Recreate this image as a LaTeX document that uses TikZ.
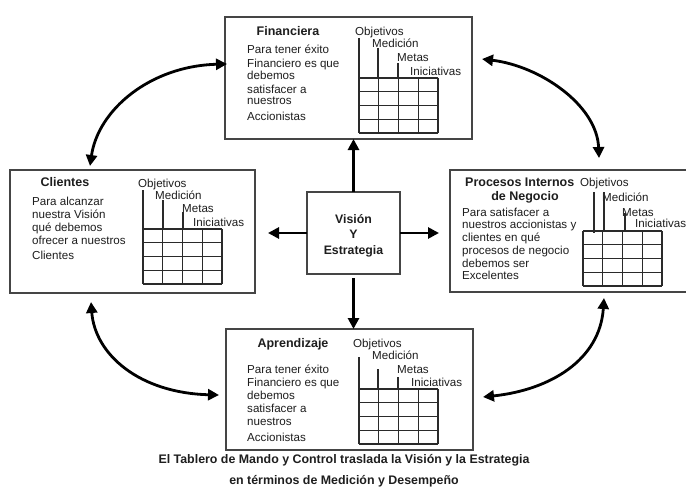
\documentclass[tikz,border=0pt]{standalone}
\usepackage{fontspec}
\setmainfont{Liberation Sans}
\usetikzlibrary{arrows.meta}
\definecolor{txt}{HTML}{1E1E1E}
\definecolor{boxgray}{HTML}{454545}
\definecolor{gridc}{HTML}{2A2A2A}
\newcommand\mygridtab[2]{%
  \foreach \k in {0,...,4}{%
    \draw[gridln] ({#1+19.75*\k},#2) -- ({#1+19.75*\k},{#2+55});
    \draw[gridln] (#1,{#2+13.75*\k}) -- ({#1+79},{#2+13.75*\k});
  }%
}
\begin{document}
\begin{tikzpicture}[x=1pt,y=-1pt,
  box/.style={draw=boxgray, line width=1.1pt, inner sep=0pt, outer sep=0pt, fill=white},
  gridln/.style={draw=gridc, line width=1.2pt},
  lbl/.style={font=\fontsize{11.6}{13}\selectfont, inner sep=0pt, anchor=base west, text=txt},
  ttl/.style={font=\fontsize{12.5}{14}\selectfont\bfseries, inner sep=0pt, anchor=base, text=txt},
  captxt/.style={font=\fontsize{12.4}{14}\selectfont\bfseries, inner sep=0pt, anchor=base, text=txt},
  bigarrow/.style={line width=2.8pt, draw=black, -{Triangle[length=11pt,width=11pt]}},
  curvarrow/.style={line width=2.8pt, draw=black, {Triangle[length=11pt,width=11pt]}-{Triangle[length=11pt,width=11pt]}}
]
\useasboundingbox (0,0) rectangle (686,487);
\clip (0,0) rectangle (686,487);

% boxes
\node[box, minimum width=247pt, minimum height=122pt] (fin) at (348.5,78) {};
\node[box, minimum width=245pt, minimum height=123pt] (cli) at (132.5,231.5) {};
\node[box, minimum width=250pt, minimum height=122pt] (pro) at (575,231) {};
\node[box, minimum width=247pt, minimum height=121pt] (apr) at (349.5,389.5) {};
\node[box, minimum width=93pt, minimum height=82pt] (vis) at (353.5,233) {};

% centre text
\node[ttl, font=\fontsize{12.3}{14}\selectfont\bfseries] (v1) at (353.5,223.5) {Visión};
\node[ttl, font=\fontsize{12.3}{14}\selectfont\bfseries] (v2) at (353.5,238.5) {Y};
\node[ttl, font=\fontsize{12.3}{14}\selectfont\bfseries] (v3) at (353.5,254.5) {Estrategia};

% titles
\node[ttl] (tfin) at (288,35.5) {Financiera};
\node[ttl] (tcli) at (65,186.5) {Clientes};
\node[ttl, anchor=base west] (tpro1) at (465,186.5) {Procesos Internos};
\node[ttl] (tpro2) at (525,200.5) {de Negocio};
\node[ttl] (tapr) at (293,347.5) {Aprendizaje};

% body texts
\foreach \t/\yy [count=\i] in {Para tener éxito/50, Financiero es que/63, debemos/76, satisfacer a/89, nuestros/101, Accionistas/117}
  \node[lbl] (finb\i) at (247,\yy+4) {\t};
\foreach \t/\yy [count=\i] in {Para alcanzar/201, nuestra Visión/214, qué debemos/227, ofrecer a nuestros/240, Clientes/255}
  \node[lbl] (clib\i) at (32,\yy+4) {\t};
\foreach \t/\yy [count=\i] in {Para satisfacer a/212, nuestros accionistas y/224, clientes en qué/237, procesos de negocio/250, debemos ser/263, Excelentes/275}
  \node[lbl] (prob\i) at (462,\yy+4) {\t};
\foreach \t/\yy [count=\i] in {Para tener éxito/369, Financiero es que/382, debemos/395, satisfacer a/408, nuestros/421, Accionistas/437}
  \node[lbl] (aprb\i) at (247,\yy+4) {\t};

% column labels
\foreach \t/\xx/\yy [count=\i] in {Objetivos/355/32, Medición/372/44, Metas/397/58, Iniciativas/410/72}
  \node[lbl] (finc\i) at (\xx,\yy+4) {\t};
\foreach \t/\xx/\yy [count=\i] in {Objetivos/138/183, Medición/155/195, Metas/182/208, Iniciativas/193/222}
  \node[lbl] (clic\i) at (\xx,\yy+4) {\t};
\foreach \t/\xx/\yy [count=\i] in {Objetivos/580/182, Medición/602/197, Metas/622/212, Iniciativas/635/223}
  \node[lbl] (proc\i) at (\xx,\yy+4) {\t};
\foreach \t/\xx/\yy [count=\i] in {Objetivos/353/343, Medición/372/355, Metas/397/369, Iniciativas/411/382}
  \node[lbl] (aprc\i) at (\xx,\yy+4) {\t};

% grids
\mygridtab{359}{78}
\mygridtab{143}{229}
\mygridtab{583}{231}
\mygridtab{359}{389}

% lead lines
\draw[gridln] (359,38) -- (359,78) (378,48) -- (378,78) (398,63) -- (398,78);
\draw[gridln] (143,190) -- (143,229) (163,200) -- (163,229) (183,212) -- (183,229);
\draw[gridln] (594,192) -- (594,233) (604,192) -- (604,231) (625,213) -- (625,231);
\draw[gridln] (359,357) -- (359,389) (378,369) -- (378,389) (398,377) -- (398,389);

% straight arrows from centre
\draw[bigarrow] (vis.north) -- (vis.north |- fin.south);
\draw[bigarrow, shorten <=4pt] (vis.south) -- (vis.south |- apr.north);
\draw[bigarrow, shorten >=13pt] (vis.west) -- (vis.west -| cli.east);
\draw[bigarrow, shorten >=11pt] (vis.east) -- (vis.east -| pro.west);

% curved arrows
\coordinate (c1a) at (227,64);
\coordinate (c1b) at (90,166);
\coordinate (c2a) at (482,59);
\coordinate (c2b) at (599,158);
\coordinate (c3a) at (91,302);
\coordinate (c3b) at (219,395);
\coordinate (c4a) at (604,298);
\coordinate (c4b) at (483,397);
\draw[curvarrow] (c1a) .. controls (150,66) and (98,110) .. (c1b);
\draw[curvarrow] (c2a) .. controls (540,66) and (597,105) .. (c2b);
\draw[curvarrow] (c3a) .. controls (95,355) and (140,393) .. (c3b);
\draw[curvarrow] (c4a) .. controls (600,360) and (550,390) .. (c4b);

% caption
\node[captxt] (cap1) at (344,463.5) {El Tablero de Mando y Control traslada la Visión y la Estrategia};
\node[captxt] (cap2) at (344,484) {en términos de Medición y Desempeño};
\end{tikzpicture}
\end{document}
